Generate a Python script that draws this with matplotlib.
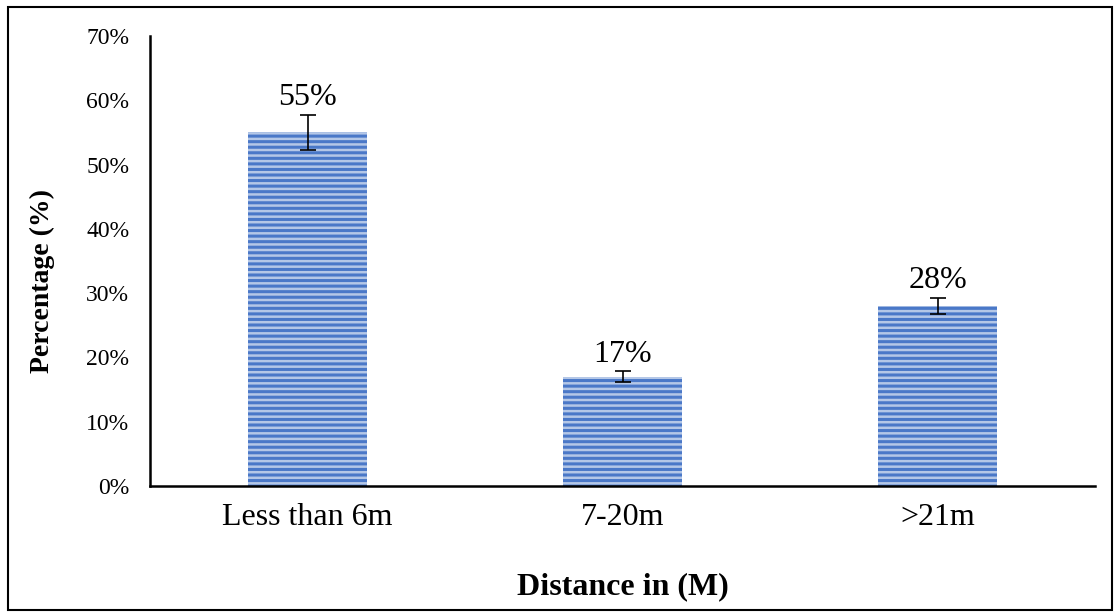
import matplotlib.pyplot as plt
import numpy as np
from matplotlib.patches import Rectangle
from matplotlib.ticker import PercentFormatter

categories = ["Less than 6m", "7-20m", ">21m"]
values = [55, 17, 28]
errors = [2.7, 0.85, 1.3]
labels = ["55%", "17%", "28%"]

plt.rcParams['font.family'] = ['Liberation Serif', 'DejaVu Serif']
plt.rcParams['hatch.linewidth'] = 2.2

fig = plt.figure(figsize=(11.2, 6.15), dpi=100)
ax = fig.add_axes([150/1120, 1 - 486/615, 945/1120, 450/615])

x = np.arange(len(categories))
ax.bar(x, values, width=0.38, color='#B4C7E7', edgecolor='#4A78C8',
       hatch='---', linewidth=0)
ax.errorbar(x, values, yerr=errors, fmt='none', ecolor='black',
            elinewidth=1.2, capsize=6, capthick=1.2)

for xi, v, e, lab in zip(x, values, errors, labels):
    ax.annotate(lab, (xi, v + e), xytext=(0, 7), textcoords='offset points',
                ha='center', va='baseline', fontsize=23)

ax.set_xlim(-0.5, 2.5)
ax.set_ylim(0, 70)
ax.set_yticks(range(0, 71, 10))
ax.yaxis.set_major_formatter(PercentFormatter(decimals=0))
ax.set_xticks(x)
ax.set_xticklabels(categories, fontsize=23)
ax.tick_params(axis='y', length=0, labelsize=17, pad=15)
ax.tick_params(axis='x', length=0, pad=12)

for s in ['top', 'right']:
    ax.spines[s].set_visible(False)
ax.spines['left'].set_linewidth(1.8)
ax.spines['bottom'].set_linewidth(1.8)

ax.set_xlabel("Distance in (M)", fontsize=23, fontweight='bold', labelpad=29)
ax.set_ylabel("Percentage (%)", fontsize=20, fontweight='bold')
ax.yaxis.set_label_coords(-0.10, 0.455)

fig.patches.append(Rectangle((8/1120, 1 - 610/615), 1104/1120, 603/615,
                             transform=fig.transFigure, fill=False,
                             edgecolor='black', linewidth=1.5))

fig.savefig("out.png", dpi=100)
